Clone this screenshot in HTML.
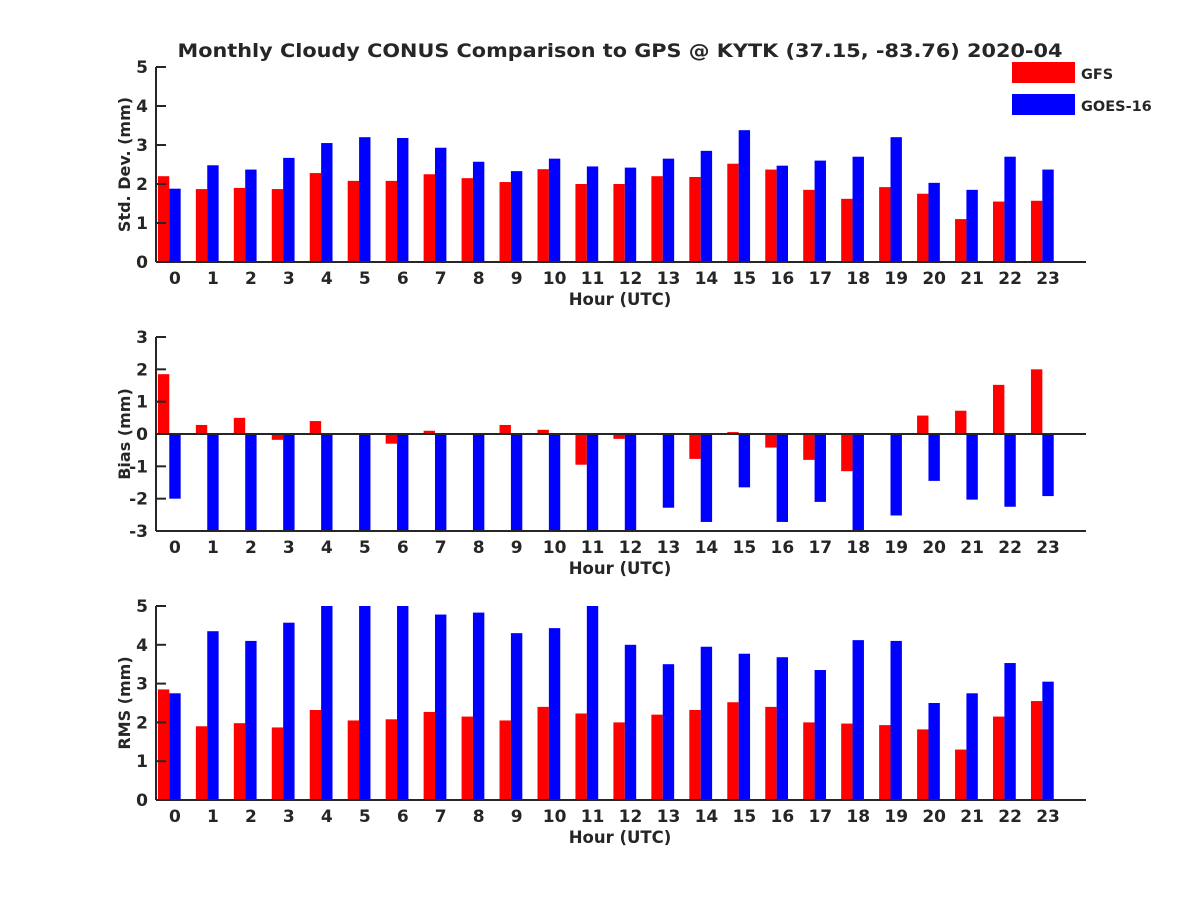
<!DOCTYPE html>
<html><head><meta charset="utf-8"><style>
html,body{margin:0;padding:0;background:#fff;}
svg text{font-family:"DejaVu Sans","Liberation Sans",sans-serif;font-weight:bold;fill:#262626;}
</style></head><body>
<svg id="chart" width="1200" height="900" xmlns="http://www.w3.org/2000/svg">
<text x="620" y="57" font-size="19" text-anchor="middle" textLength="885" lengthAdjust="spacingAndGlyphs" fill="#000">Monthly Cloudy CONUS Comparison to GPS @ KYTK (37.15, -83.76) 2020-04</text>
<g>
<rect x="1012" y="62" width="63" height="21" fill="#ff0000"/>
<text x="1081" y="79" font-size="14.5" fill="#000">GFS</text>
<rect x="1012" y="94" width="63" height="21" fill="#0000ff"/>
<text x="1081" y="111" font-size="14.5" fill="#000">GOES-16</text>
</g>
</svg>
<script>
const hours = [0,1,2,3,4,5,6,7,8,9,10,11,12,13,14,15,16,17,18,19,20,21,22,23];
const stdGFS = [2.2,1.87,1.9,1.87,2.28,2.08,2.08,2.25,2.15,2.05,2.38,2.0,2.0,2.2,2.18,2.52,2.37,1.85,1.62,1.92,1.75,1.1,1.55,1.57];
const stdGOES = [1.88,2.48,2.37,2.67,3.05,3.2,3.18,2.93,2.57,2.33,2.65,2.45,2.42,2.65,2.85,3.38,2.47,2.6,2.7,3.2,2.03,1.85,2.7,2.37];
const biasGFS = [1.85,0.28,0.5,-0.18,0.4,0,-0.3,0.1,0,0.28,0.13,-0.95,-0.15,0.03,-0.77,0.06,-0.42,-0.8,-1.15,-0.03,0.57,0.72,1.52,2.0];
const biasGOES = [-2.0,-3.5,-3.5,-3.5,-3.5,-3.5,-3.5,-3.5,-3.5,-3.5,-3.5,-3.5,-3.5,-2.28,-2.72,-1.65,-2.72,-2.1,-3.5,-2.52,-1.45,-2.03,-2.25,-1.92];
const rmsGFS = [2.85,1.9,1.98,1.87,2.32,2.05,2.08,2.27,2.15,2.05,2.4,2.23,2.0,2.2,2.32,2.52,2.4,2.0,1.97,1.93,1.82,1.3,2.15,2.55];
const rmsGOES = [2.75,4.35,4.1,4.57,5.5,5.5,5.5,4.78,4.83,4.3,4.43,5.5,4.0,3.5,3.95,3.77,3.68,3.35,4.12,4.1,2.5,2.75,3.53,3.05];
const stdTicks = [0,1,2,3,4,5];
const biasTicks = [-3,-2,-1,0,1,2,3];
const rmsTicks = [0,1,2,3,4,5];

const NS = "http://www.w3.org/2000/svg";
const svg = document.getElementById('chart');
function mk(tag, attrs, parent){const e=document.createElementNS(NS,tag);for(const k in attrs)e.setAttribute(k,attrs[k]);parent.appendChild(e);return e;}

const X0=156, X1=1086, XMIN=-0.5, XMAX=24;
function xs(v){return X0+(v-XMIN)/(XMAX-XMIN)*(X1-X0);}

function panel(id, top, bot, ymin, ymax, ticks, gfs, goes, ylabel){
  const g=mk('g',{},svg);
  
  
  const ys=v=>bot-(v-ymin)/(ymax-ymin)*(bot-top);
  const clipId='clip-'+id;
  const cp=mk('clipPath',{id:clipId},g);
  mk('rect',{x:X0,y:top,width:X1-X0,height:bot-top},cp);
  const bars=mk('g',{'clip-path':'url(#'+clipId+')'},g);
  const base=Math.max(ymin,0);
  hours.forEach((h,i)=>{
    [[gfs[i],-0.45,'#ff0000','gfs'],[goes[i],-0.15,'#0000ff','goes16']].forEach(([v,off,c,nm])=>{
      const ya=ys(v), yb=ys(base);
      const r=mk('rect',{x:xs(h+off),y:Math.min(ya,yb),width:xs(h+off+0.3)-xs(h+off),height:Math.abs(ya-yb),fill:c},bars);
      
      
    });
  });
  const zeroY = ymin<0 ? ys(0) : bot;
  const xa=mk('line',{x1:X0,x2:X1,y1:zeroY,y2:zeroY,stroke:'#262626','stroke-width':2},g);
  
  
  if(ymin<0){mk('line',{x1:X0,x2:X1,y1:bot,y2:bot,stroke:'#262626','stroke-width':2},g);}
  const ya=mk('line',{x1:X0,x2:X0,y1:top,y2:bot,stroke:'#262626','stroke-width':2},g);
  
  
  ticks.forEach(t=>{
    const y=ys(t);
    mk('line',{x1:X0,x2:X0+10,y1:y,y2:y,stroke:'#262626','stroke-width':2},g);
    const tx=mk('text',{x:X0-8,y:y+6,'font-size':17,'text-anchor':'end'},g);
    tx.textContent=t;
    
    
  });
  hours.forEach(h=>{
    const x=xs(h);
    const tx=mk('text',{x:x,y:bot+22,'font-size':17,'text-anchor':'middle'},g);
    tx.textContent=h;
    
    
  });
  const xl=mk('text',{x:620,y:bot+43,'font-size':16.5,'text-anchor':'middle'},g);
  xl.textContent='Hour (UTC)';
  
  
  const yc=(top+bot)/2;
  const yl=mk('text',{x:130,y:yc,'font-size':16,'text-anchor':'middle',transform:'rotate(-90 130 '+yc+')'},g);
  yl.textContent=ylabel;
  
  
}
panel('std',67,262,0,5,stdTicks,stdGFS,stdGOES,'Std. Dev. (mm)');
panel('bias',337,531,-3,3,biasTicks,biasGFS,biasGOES,'Bias (mm)');
panel('rms',606,800,0,5,rmsTicks,rmsGFS,rmsGOES,'RMS (mm)');
</script>
</body></html>
